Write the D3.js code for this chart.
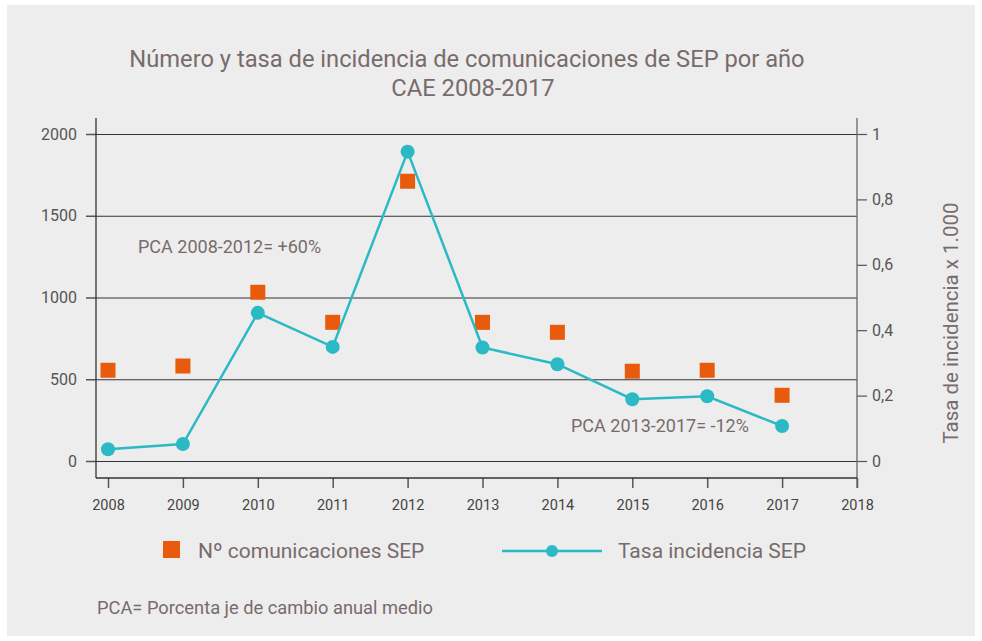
<!DOCTYPE html>
<html>
<head>
<meta charset="utf-8">
<script src="https://cdn.jsdelivr.net/npm/d3@7"></script>
<style>
  body { margin: 0; background: #ffffff; }
  svg text { font-family: Roboto, "Noto Sans", sans-serif; }
</style>
</head>
<body>
<div id="chart"></div>
<script>
var years = [2008, 2009, 2010, 2011, 2012, 2013, 2014, 2015, 2016, 2017];
var num_comunicaciones = [555, 581, 1032, 848, 1711, 848, 787, 549, 555, 402];
var tasa_incidencia = [0.036, 0.052, 0.453, 0.349, 0.946, 0.347, 0.296, 0.189, 0.198, 0.107];

var x_ticks = [2008, 2009, 2010, 2011, 2012, 2013, 2014, 2015, 2016, 2017, 2018];
var left_ticks = [0, 500, 1000, 1500, 2000];
var right_ticks = [0, 0.2, 0.4, 0.6, 0.8, 1];
var right_tick_labels = ["0", "0,2", "0,4", "0,6", "0,8", "1"];

var title_lines = ["Número y tasa de incidencia de comunicaciones de SEP por año", "CAE 2008-2017"];
var legend_labels = ["Nº comunicaciones SEP", "Tasa incidencia SEP"];
var notes = ["PCA 2008-2012= +60%", "PCA 2013-2017= -12%"];

var width = 982;
var height = 641;
var text_color = "#786b6b";
var orange = "#e95b0c";
var teal = "#2bb9c6";

var plot_left = 96, plot_right = 857, plot_top = 118, plot_bottom = 478;

var svg = d3.select("#chart")
    .append("svg")
    .attr("width", width)
    .attr("height", height);

// grey panel
svg.append("rect")
    .attr("x", 7).attr("y", 5)
    .attr("width", 968).attr("height", 631)
    .attr("fill", "#ededed");

var x = d3.scaleLinear()
    .domain([2008, 2018])
    .range([108, 857]);
var y_left = d3.scaleLinear()
    .domain([0, 2000])
    .range([461, 134]);
var y_right = d3.scaleLinear()
    .domain([0, 1])
    .range([461, 134]);

////////////////////////////////////////////////////////////////////////////////
// title
svg.append("g")
    .selectAll("text")
    .data(title_lines)
    .enter()
    .append("text")
    .attr("x", function(d, i) { return i == 0 ? 467 : 473; })
    .attr("y", function(d, i) { return 67 + i * 29; })
    .attr("text-anchor", "middle")
    .attr("font-size", 23.7)
    .attr("fill", text_color)
    .text(function(d) { return d; });

////////////////////////////////////////////////////////////////////////////////
// gridlines + axes
svg.append("g")
    .attr("transform", "translate(" + plot_left + ",0)")
    .call(d3.axisLeft(y_left).tickValues(left_ticks).tickSizeInner(-(plot_right - plot_left)).tickSizeOuter(0).tickFormat(""))
    .call(function(g) { g.select(".domain").remove(); })
    .call(function(g) { g.selectAll("line").attr("stroke", "#333").attr("stroke-width", 1.2); });

svg.append("g")
    .attr("transform", "translate(" + plot_left + ",0)")
    .call(d3.axisLeft(y_left).tickValues(left_ticks).tickFormat(d3.format("d")).tickSizeInner(10).tickSizeOuter(0).tickPadding(9))
    .call(function(g) { g.select(".domain").remove(); })
    .call(function(g) { g.selectAll("line").attr("stroke", "#555").attr("stroke-width", 1.5); })
    .call(function(g) { g.selectAll("text").attr("font-size", 16).attr("fill", "#555"); });

svg.append("g")
    .attr("transform", "translate(" + plot_right + ",0)")
    .call(d3.axisRight(y_right).tickValues(right_ticks).tickSizeInner(10).tickSizeOuter(0).tickPadding(5)
        .tickFormat(function(d, i) { return right_tick_labels[i]; }))
    .call(function(g) { g.select(".domain").remove(); })
    .call(function(g) { g.selectAll("line").attr("stroke", "#555").attr("stroke-width", 1.2); })
    .call(function(g) { g.selectAll("text").attr("font-size", 16).attr("fill", "#555"); });

svg.append("g")
    .attr("transform", "translate(0," + plot_bottom + ")")
    .call(d3.axisBottom(x).tickValues(x_ticks).tickFormat(d3.format("d")).tickSizeInner(10).tickSizeOuter(0).tickPadding(12))
    .call(function(g) { g.select(".domain").remove(); })
    .call(function(g) { g.selectAll("line").attr("stroke", "#555").attr("stroke-width", 1.5); })
    .call(function(g) { g.selectAll("text").attr("font-size", 14.5).attr("fill", "#444"); });

// frame lines
var frame = svg.append("g").attr("stroke", "#333").attr("stroke-width", 1.3);
frame.append("line")
    .attr("x1", plot_left).attr("x2", plot_left)
    .attr("y1", plot_top).attr("y2", plot_bottom);
frame.append("line")
    .attr("x1", plot_right).attr("x2", plot_right)
    .attr("y1", plot_top).attr("y2", plot_bottom + 10)
    .attr("stroke", "#666");
frame.append("line")
    .attr("x1", plot_left).attr("x2", plot_right)
    .attr("y1", plot_bottom).attr("y2", plot_bottom);

// right axis title
svg.append("text")
    .attr("transform", "translate(958,323) rotate(-90)")
    .attr("text-anchor", "middle")
    .attr("font-size", 20.5)
    .attr("fill", text_color)
    .text("Tasa de incidencia x 1.000");

////////////////////////////////////////////////////////////////////////////////
// data
var sq = 15;
svg.append("g")
    .selectAll("rect")
    .data(years)
    .enter()
    .append("rect")
    .attr("x", function(d) { return x(d) - sq / 2; })
    .attr("y", function(d, i) { return y_left(num_comunicaciones[i]) - sq / 2; })
    .attr("width", sq)
    .attr("height", sq)
    .attr("fill", orange);

var line = d3.line()
    .x(function(d) { return x(d); })
    .y(function(d, i) { return y_right(tasa_incidencia[i]); });

svg.append("path")
    .datum(years)
    .attr("fill", "none")
    .attr("stroke", teal)
    .attr("stroke-width", 2.5)
    .attr("d", line);

svg.append("g")
    .selectAll("circle")
    .data(years)
    .enter()
    .append("circle")
    .attr("cx", function(d) { return x(d); })
    .attr("cy", function(d, i) { return y_right(tasa_incidencia[i]); })
    .attr("r", 7)
    .attr("fill", teal);

////////////////////////////////////////////////////////////////////////////////
// annotations
svg.append("text")
    .attr("x", 138).attr("y", 253)
    .attr("font-size", 18)
    .attr("fill", text_color)
    .text(notes[0]);
svg.append("text")
    .attr("x", 571).attr("y", 432)
    .attr("font-size", 18)
    .attr("fill", text_color)
    .text(notes[1]);

// legend
svg.append("rect")
    .attr("x", 163).attr("y", 541)
    .attr("width", 17).attr("height", 17)
    .attr("fill", orange);
svg.append("text")
    .attr("x", 198).attr("y", 558)
    .attr("font-size", 21)
    .attr("fill", text_color)
    .text(legend_labels[0]);
svg.append("line")
    .attr("x1", 502).attr("x2", 602)
    .attr("y1", 551).attr("y2", 551)
    .attr("stroke", teal)
    .attr("stroke-width", 2.5);
svg.append("circle")
    .attr("cx", 552).attr("cy", 551)
    .attr("r", 6)
    .attr("fill", teal);
svg.append("text")
    .attr("x", 618).attr("y", 558)
    .attr("font-size", 21)
    .attr("fill", text_color)
    .text(legend_labels[1]);

// footnote
svg.append("text")
    .attr("x", 97).attr("y", 614)
    .attr("font-size", 18.3)
    .attr("fill", text_color)
    .text("PCA= Porcenta je de cambio anual medio");
</script>
</body>
</html>
